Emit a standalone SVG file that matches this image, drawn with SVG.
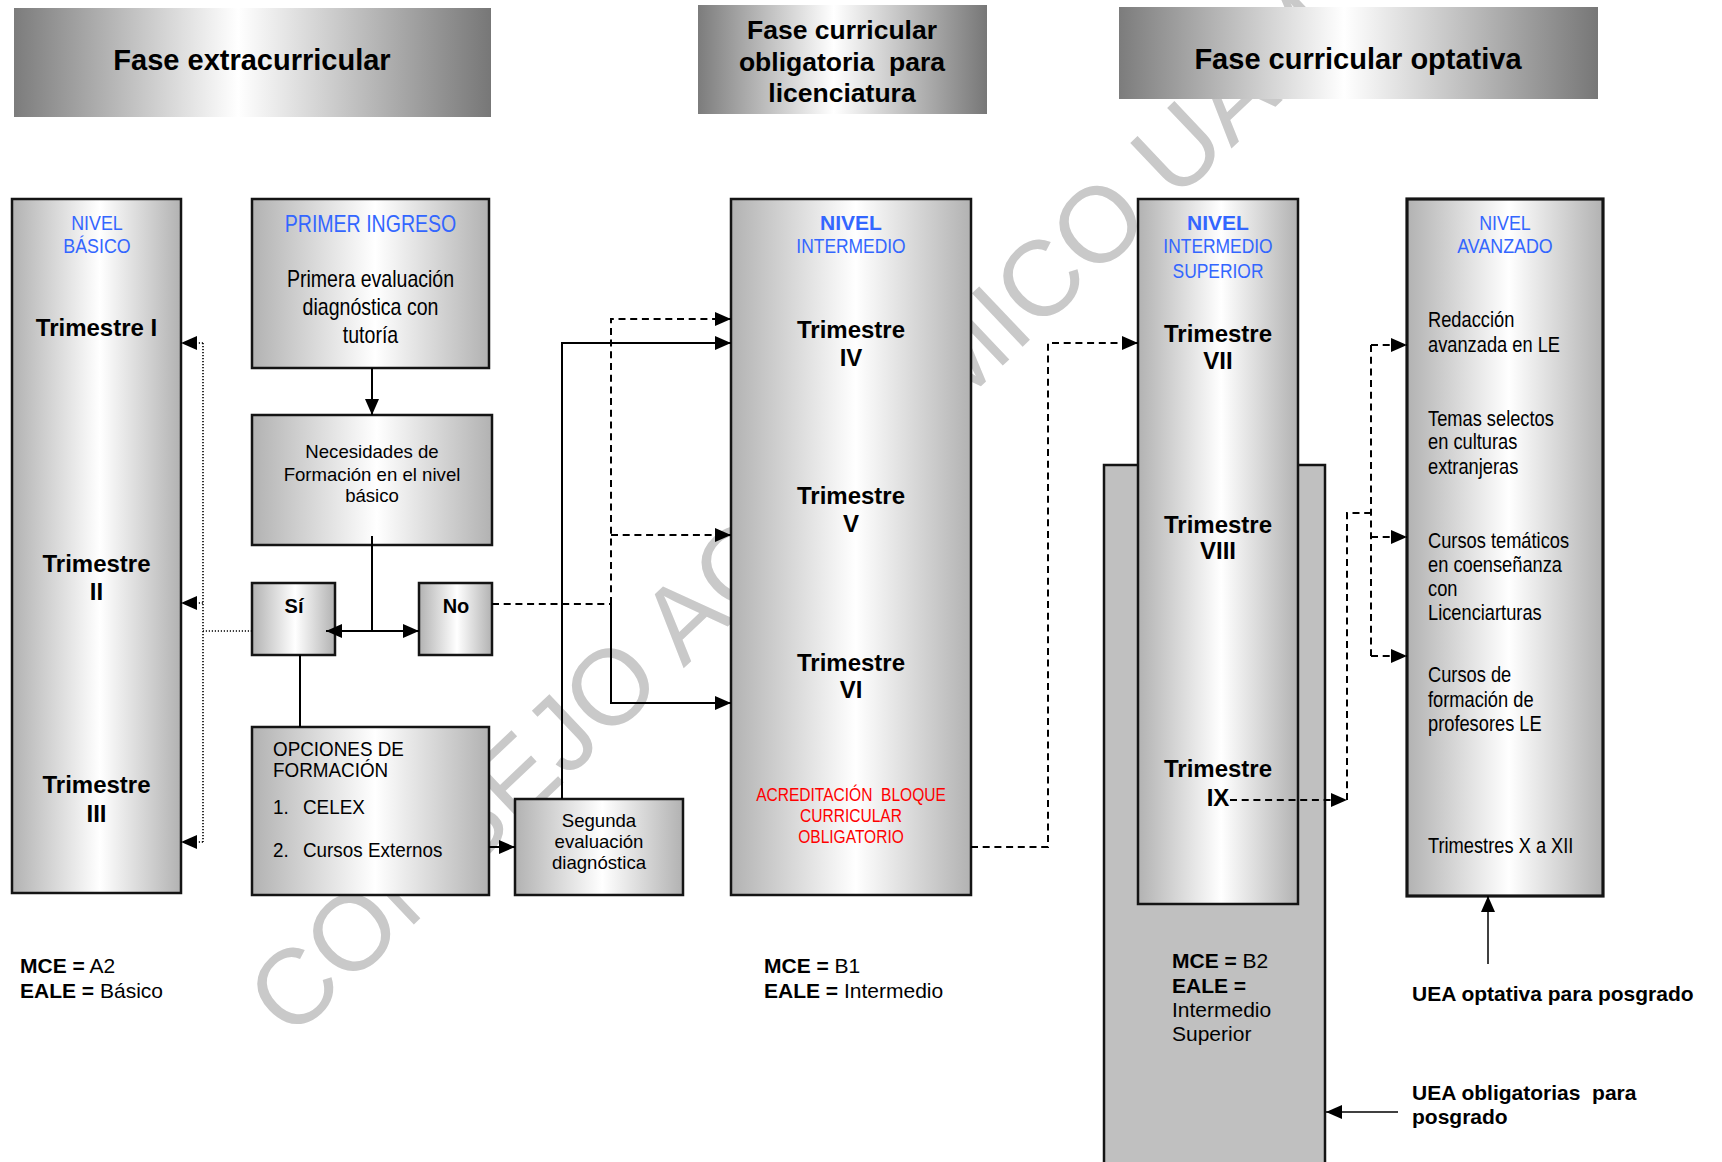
<svg xmlns="http://www.w3.org/2000/svg" width="1722" height="1162" viewBox="0 0 1722 1162">
  <defs>
    <linearGradient id="gHead" x1="0" y1="0" x2="1" y2="0">
      <stop offset="0" stop-color="#7c7c7c"/>
      <stop offset="0.47" stop-color="#ffffff"/>
      <stop offset="1" stop-color="#777777"/>
    </linearGradient>
    <linearGradient id="gBox" x1="0" y1="0" x2="1" y2="0">
      <stop offset="0" stop-color="#b2b2b2"/>
      <stop offset="0.52" stop-color="#ffffff"/>
      <stop offset="1" stop-color="#b2b2b2"/>
    </linearGradient>
    <marker id="ah" markerUnits="userSpaceOnUse" markerWidth="16" markerHeight="14" refX="16" refY="7" orient="auto">
      <path d="M0,0 L16,7 L0,14 Z" fill="#000"/>
    </marker>
    <style>
      text { font-family: 'Liberation Sans', Arial, sans-serif; fill: #000; }
      .b { font-weight: bold; }
      .c { text-anchor: middle; }
      .blue { fill: #3366ff; }
      .red { fill: #ff0000; }
      .head { fill: url(#gHead); }
      .box { fill: url(#gBox); stroke: #141414; stroke-width: 2.5; }
      .thick { stroke-width: 3.2; }
      .back { fill: #c0c0c0; stroke: #141414; stroke-width: 2.5; }
      .wm { fill: #c9c9c9; font-size: 107px; }
      .ln { fill: none; stroke: #000; stroke-width: 2; }
      .thin { stroke-width: 1.5; }
      .dash { stroke-dasharray: 7 4.7; }
      .dot { stroke-width: 1.6; stroke-dasharray: 1.2 1.8; }
      .arr { marker-end: url(#ah); }
      .h29 { font-size: 29px; }
      .h27 { font-size: 26.5px; }
      .tri { font-size: 24px; font-weight: bold; }
      .lvl { font-size: 21px; }
      .nar23 { font-size: 23px; }
      .nar21 { font-size: 21.5px; }
      .nar20 { font-size: 20.5px; }
      .op { font-size: 20.5px; }
      .red18 { font-size: 18.3px; }
      .s18 { font-size: 18.6px; }
      .s20 { font-size: 20px; }
      .s21 { font-size: 21px; }
    </style>
  </defs>

  <!-- watermark behind everything -->
  <text class="wm" transform="translate(291,1041) rotate(-43.5)">CONSEJO ACADÉMICO UAM</text>

  <!-- phase headers -->
  <g id="fase-extracurricular">
    <rect class="head" x="14" y="8" width="477" height="109"/>
    <text class="b c h29" x="252" y="70">Fase extracurricular</text>
  </g>
  <g id="fase-obligatoria">
    <rect class="head" x="698" y="5" width="289" height="109"/>
    <text class="b c h27" x="842" y="39">Fase curricular</text>
    <text class="b c h27" x="842" y="70.5" xml:space="preserve">obligatoria  para</text>
    <text class="b c h27" x="842" y="102">licenciatura</text>
  </g>
  <g id="fase-optativa">
    <rect class="head" x="1119" y="7" width="479" height="92"/>
    <text class="b c h29" x="1358" y="69">Fase curricular optativa</text>
  </g>

  <!-- basic level column -->
  <g id="nivel-basico">
    <rect class="box" x="12" y="199" width="169" height="694"/>
    <text class="c lvl blue" transform="matrix(0.85 0 0 1 97 230)">NIVEL</text>
    <text class="c lvl blue" transform="matrix(0.85 0 0 1 97 253)">BÁSICO</text>
    <text class="c tri" x="96.5" y="336">Trimestre I</text>
    <text class="c tri" x="96.5" y="572">Trimestre</text>
    <text class="c tri" x="96.5" y="600">II</text>
    <text class="c tri" x="96.5" y="793">Trimestre</text>
    <text class="c tri" x="96.5" y="822">III</text>
  </g>

  <g id="primer-ingreso">
    <rect class="box" x="252" y="199" width="237" height="169"/>
    <text class="c nar23 blue" transform="matrix(0.85 0 0 1 370.5 232)">PRIMER INGRESO</text>
    <text class="c nar23" transform="matrix(0.85 0 0 1 370.5 287)">Primera evaluación</text>
    <text class="c nar23" transform="matrix(0.85 0 0 1 370.5 315)">diagnóstica con</text>
    <text class="c nar23" transform="matrix(0.85 0 0 1 370.5 343)">tutoría</text>
  </g>

  <g id="necesidades">
    <rect class="box" x="252" y="415" width="240" height="130"/>
    <text class="c s18" x="372" y="458">Necesidades de</text>
    <text class="c s18" x="372" y="481">Formación en el nivel</text>
    <text class="c s18" x="372" y="502">básico</text>
  </g>

  <g id="si">
    <rect class="box" x="252" y="583" width="83" height="72"/>
    <text class="c b s20" x="294" y="613">Sí</text>
  </g>

  <g id="no">
    <rect class="box" x="419" y="583" width="73" height="72"/>
    <text class="c b s20" x="456" y="613">No</text>
  </g>

  <g id="opciones">
    <rect class="box" x="252" y="727" width="237" height="168"/>
    <text class="op" transform="matrix(0.92 0 0 1 273 756)">OPCIONES DE</text>
    <text class="op" transform="matrix(0.92 0 0 1 273 777)">FORMACIÓN</text>
    <text class="op" transform="matrix(0.92 0 0 1 273 814)">1.</text>
    <text class="op" transform="matrix(0.92 0 0 1 303 814)">CELEX</text>
    <text class="op" transform="matrix(0.92 0 0 1 273 857)">2.</text>
    <text class="op" transform="matrix(0.92 0 0 1 303 857)">Cursos Externos</text>
  </g>

  <g id="segunda">
    <rect class="box" x="515" y="799" width="168" height="96"/>
    <text class="c s18" x="599" y="827">Segunda</text>
    <text class="c s18" x="599" y="848">evaluación</text>
    <text class="c s18" x="599" y="869">diagnóstica</text>
  </g>

  <!-- intermediate level column -->
  <g id="nivel-intermedio">
    <rect class="box" x="731" y="199" width="240" height="696"/>
    <text class="c b lvl blue" x="851" y="230">NIVEL</text>
    <text class="c nar20 blue" transform="matrix(0.85 0 0 1 851 253)">INTERMEDIO</text>
    <text class="c tri" x="851" y="338">Trimestre</text>
    <text class="c tri" x="851" y="366">IV</text>
    <text class="c tri" x="851" y="504">Trimestre</text>
    <text class="c tri" x="851" y="532">V</text>
    <text class="c tri" x="851" y="671">Trimestre</text>
    <text class="c tri" x="851" y="698">VI</text>
    <text class="c red18 red" transform="matrix(0.85 0 0 1 851 801)" xml:space="preserve">ACREDITACIÓN  BLOQUE</text>
    <text class="c red18 red" transform="matrix(0.85 0 0 1 851 822)">CURRICULAR</text>
    <text class="c red18 red" transform="matrix(0.85 0 0 1 851 843)">OBLIGATORIO</text>
  </g>

  <!-- postgraduate block behind upper-intermediate column -->
  <g id="bloque-posgrado">
    <rect class="back" x="1104" y="465" width="221" height="710"/>
    <text class="s21" x="1172" y="968"><tspan class="b">MCE =</tspan> B2</text>
    <text class="s21 b" x="1172" y="993">EALE =</text>
    <text class="s21" x="1172" y="1017">Intermedio</text>
    <text class="s21" x="1172" y="1041">Superior</text>
  </g>

  <g id="nivel-intermedio-superior">
    <rect class="box" x="1138" y="199" width="160" height="705"/>
    <text class="c b lvl blue" x="1218" y="230">NIVEL</text>
    <text class="c nar20 blue" transform="matrix(0.85 0 0 1 1218 253)">INTERMEDIO</text>
    <text class="c nar20 blue" transform="matrix(0.85 0 0 1 1218 278)">SUPERIOR</text>
    <text class="c tri" x="1218" y="342">Trimestre</text>
    <text class="c tri" x="1218" y="369">VII</text>
    <text class="c tri" x="1218" y="533">Trimestre</text>
    <text class="c tri" x="1218" y="559">VIII</text>
    <text class="c tri" x="1218" y="777">Trimestre</text>
    <text class="c tri" x="1218" y="806">IX</text>
  </g>

  <g id="nivel-avanzado">
    <rect class="box thick" x="1407" y="199" width="196" height="697"/>
    <text class="c lvl blue" transform="matrix(0.85 0 0 1 1505 230)">NIVEL</text>
    <text class="c lvl blue" transform="matrix(0.85 0 0 1 1505 253)">AVANZADO</text>
    <text class="nar21" transform="matrix(0.85 0 0 1 1428 327)">Redacción</text>
    <text class="nar21" transform="matrix(0.85 0 0 1 1428 352)">avanzada en LE</text>
    <text class="nar21" transform="matrix(0.85 0 0 1 1428 426)">Temas selectos</text>
    <text class="nar21" transform="matrix(0.85 0 0 1 1428 449)">en culturas</text>
    <text class="nar21" transform="matrix(0.85 0 0 1 1428 474)">extranjeras</text>
    <text class="nar21" transform="matrix(0.85 0 0 1 1428 548)">Cursos temáticos</text>
    <text class="nar21" transform="matrix(0.85 0 0 1 1428 572)">en coenseñanza</text>
    <text class="nar21" transform="matrix(0.85 0 0 1 1428 596)">con</text>
    <text class="nar21" transform="matrix(0.85 0 0 1 1428 620)">Licenciarturas</text>
    <text class="nar21" transform="matrix(0.85 0 0 1 1428 682)">Cursos de</text>
    <text class="nar21" transform="matrix(0.85 0 0 1 1428 707)">formación de</text>
    <text class="nar21" transform="matrix(0.85 0 0 1 1428 731)">profesores LE</text>
    <text class="nar21" transform="matrix(0.85 0 0 1 1428 853)">Trimestres X a XII</text>
  </g>

  <!-- level equivalences -->
  <g id="equivalencia-basico">
    <text class="s21" x="20" y="973"><tspan class="b">MCE =</tspan> A2</text>
    <text class="s21" x="20" y="998"><tspan class="b">EALE =</tspan> Básico</text>
  </g>
  <g id="equivalencia-intermedio">
    <text class="s21" x="764" y="973"><tspan class="b">MCE =</tspan> B1</text>
    <text class="s21" x="764" y="998"><tspan class="b">EALE =</tspan> Intermedio</text>
  </g>

  <g id="uea-optativa">
    <text class="s21 b" x="1412" y="1001">UEA optativa para posgrado</text>
  </g>
  <g id="uea-obligatorias">
    <text class="s21 b" x="1412" y="1100" xml:space="preserve">UEA obligatorias  para</text>
    <text class="s21 b" x="1412" y="1124">posgrado</text>
  </g>

  <!-- connectors -->
  <g id="connectors">
    <path class="ln arr" d="M372,368 V415"/>
    <path class="ln" d="M372,536 V631"/>
    <path class="ln arr" d="M372,631 H326"/>
    <path class="ln arr" d="M372,631 H419"/>
    <path class="ln" d="M300,655 V727"/>

    <!-- dotted return to basic trimesters -->
    <path class="ln dot" d="M252,631 H203 M203,343 V842"/>
    <path class="ln dot arr" d="M203,343 H181"/>
    <path class="ln dot arr" d="M203,603 H181"/>
    <path class="ln dot arr" d="M203,842 H181"/>

    <path class="ln arr" d="M489,847 H515"/>
    <path class="ln arr" d="M562,799 V343 H731"/>

    <!-- "No" branch into intermediate trimesters -->
    <path class="ln dash" d="M492,604 H611"/>
    <path class="ln dash arr" d="M611,604 V319 H731"/>
    <path class="ln dash arr" d="M611,535 H731"/>
    <path class="ln arr" d="M611,604 V703 H731"/>

    <path class="ln dash arr" d="M971,847 H1048 V343 H1138"/>

    <!-- upper-intermediate to advanced options -->
    <path class="ln dash arr" d="M1230,800 H1347"/>
    <path class="ln dash" d="M1347,800 V513 H1371"/>
    <path class="ln dash" d="M1371,345 V656"/>
    <path class="ln dash arr" d="M1371,345 H1407"/>
    <path class="ln dash arr" d="M1371,537 H1407"/>
    <path class="ln dash arr" d="M1371,656 H1407"/>

    <path class="ln thin arr" d="M1488,964 V896"/>
    <path class="ln thin arr" d="M1398,1112 H1326"/>
  </g>
</svg>
